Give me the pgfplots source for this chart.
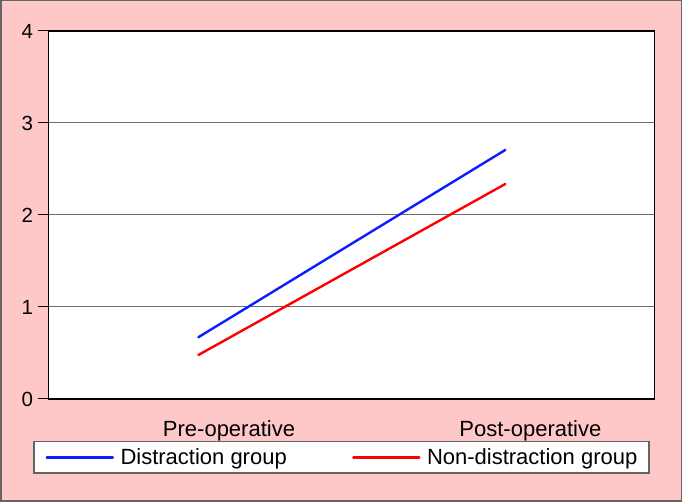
\documentclass[border=0pt]{standalone}
\usepackage{pgfplots}
\pgfplotsset{compat=1.18}
\usepackage{fontspec}
\setmainfont{Liberation Sans}
\definecolor{bgpink}{RGB}{255,200,200}
\definecolor{framegray}{RGB}{100,100,100}
\definecolor{gridgray}{RGB}{110,110,110}
\definecolor{lineblue}{RGB}{10,30,255}
\definecolor{linered}{RGB}{255,0,0}
\begin{document}
\begin{tikzpicture}[x=1pt,y=1pt]
\fill[bgpink] (0,0) rectangle (682,502);
\draw[framegray, line width=1.5pt] (0.75,0.75) rectangle (681.25,501.25);
\begin{axis}[
  at={(48.3pt,103pt)}, anchor=south west,
  scale only axis, width=606.4pt, height=368pt,
  xmin=0, xmax=1, ymin=0, ymax=4,
  axis background/.style={fill=white},
  axis line style={black, line width=1.2pt},
  xtick={0.298,0.795}, xticklabels={Pre-operative, Post-operative},
  xtick style={draw=none},
  ytick={0,1,2,3,4},
  ytick style={black, line width=1pt},
  tick align=outside, major tick length=10pt,
  tick pos=left,
  ymajorgrids, grid style={gridgray, line width=1pt},
  xticklabel style={font=\fontsize{22}{26}\selectfont, inner sep=0pt, anchor=north, yshift=-11pt},
  yticklabel style={font=\fontsize{20.5}{24}\selectfont, inner sep=0pt, xshift=-5pt},
  /pgf/number format/assume math mode=true,
  legend columns=2,
  legend cell align=left,
  legend image code/.code={\draw[#1] (0pt,0pt) -- (66pt,0pt);},
  legend style={
    at={(-0.02474,-0.11413)}, anchor=north west,
    draw=framegray, line width=1.2pt, fill=white,
    inner xsep=11.7pt, inner ysep=7pt,
    font=\fontsize{22}{26}\selectfont,
    nodes={inner sep=0pt},
    column sep=0pt,
    /tikz/every odd column/.append style={column sep=6.5pt},
  },
]
\addplot[lineblue, line width=2.4pt, line cap=round] coordinates {(0.2474,0.671) (0.7536,2.707)};
\addlegendentry{\makebox[231.6pt][l]{Distraction group}}
\addplot[linered, line width=2.4pt, line cap=round] coordinates {(0.2474,0.478) (0.7536,2.337)};
\addlegendentry{Non-distraction group}
\end{axis}
\pgfresetboundingbox
\path[use as bounding box] (0,0) rectangle (682,502);
\end{tikzpicture}
\end{document}
